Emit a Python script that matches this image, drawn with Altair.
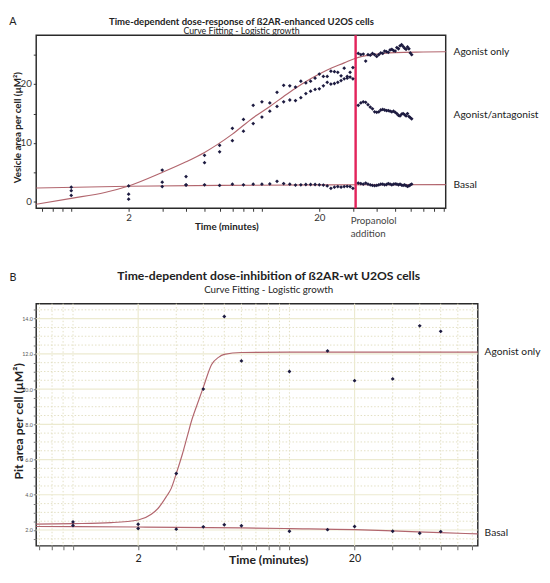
import altair as alt
import pandas as pd

FONT = "Lato"
PT_COLOR = "#1d1b40"
FIT_COLOR = "#b2666e"
EVENT_COLOR = "#e3245c"

# ---------------- Panel A ----------------
A_LETTER = "A"
A_TITLE = "Time-dependent dose-response of ß2AR-enhanced U2OS cells"
A_SUBTITLE = "Curve Fitting - Logistic growth"
A_YTITLE = "Vesicle area per cell (µM²)"
A_XTITLE = "Time (minutes)"
A_EVENT_LABEL = "Propanolol\naddition"
A_EVENT_T = [31]

A_T_PRE = [1, 2, 3, 4, 5, 6, 7, 8, 9, 10, 11, 12, 13, 14, 15,
           16, 17, 18, 19, 20, 21, 22, 23, 24, 25, 26, 27, 28, 29, 30]
A_REP1_PRE = [1.9, 1.3, 5.4, 4.3, 7.9, 9.6, 12.5, 14.0, 16.4, 17.0, 16.8, 18.6, 19.8, 19.7, 19.5,
              20.5, 20.2, 20.5, 21.0, 21.7, 21.3, 21.3, 22.2, 22.1, 22.0, 21.4, 22.7, 21.3, 22.0, 22.8]
A_REP2_PRE = [1.1, 0.45, 3.35, 2.9, 6.65, 8.5, 10.4, 12.0, 13.3, 14.4, 15.4, 16.2, 17.0, 17.3, 17.2,
              17.7, 18.4, 18.8, 19.1, 19.2, 19.7, 20.3, 20.0, 20.1, 20.3, 20.6, 20.9, 21.0, 21.2, 20.9]
A_BASAL_PRE = [2.5, 2.7, 2.6, 2.85, 2.9, 2.8, 3.0, 2.9, 3.0, 3.0, 3.05, 3.5, 3.1, 3.0, 2.85,
               2.9, 2.95, 2.95, 2.95, 2.9, 2.85, 2.7, 2.3, 2.5, 2.6, 2.5, 2.6, 2.65, 2.6, 2.3]

A_T_POST = [32, 33, 34, 35, 36, 37, 38, 39, 40, 41, 42, 43, 44, 45, 46,
            47, 48, 49, 50, 51, 52, 53, 54, 55, 56, 57, 58, 59, 60, 61]
A_AGONIST_POST = [25.2, 25.0, 25.1, 23.9, 25.0, 24.9, 25.2, 25.0, 24.7, 25.0, 25.3, 25.2, 25.6, 25.5, 25.4,
                  25.8, 25.9, 25.7, 25.6, 26.2, 26.0, 26.5, 26.7, 26.4, 26.1, 25.9, 26.3, 26.0, 25.3, 25.0]
A_ANTAG_POST = [16.4, 16.8, 17.0, 16.9, 16.5, 16.1, 15.8, 15.3, 15.2, 15.3, 15.6, 15.7, 15.6, 15.5, 15.5,
                15.4, 15.3, 15.4, 15.2, 15.0, 14.7, 14.6, 14.9, 15.0, 14.8, 14.6, 15.0, 14.5, 14.3, 14.1]
A_BASAL_POST = [3.2, 3.1, 3.0, 3.2, 3.0, 2.9, 2.8, 2.75, 2.8, 2.9, 3.0, 3.0, 2.9, 2.95, 3.1,
                3.0, 2.9, 3.0, 3.05, 3.0, 2.9, 3.0, 2.85, 2.8, 2.9, 2.75, 2.65, 2.7, 2.9, 3.0]

# fitted curves
A_FIT_AGONIST_T = [0.655, 1, 1.5, 2, 3, 4, 5, 7, 9, 11, 13, 15, 18, 22, 27, 31, 38, 50, 70, 92]
A_FIT_AGONIST_V = [-0.4, 0.6, 1.6, 2.7, 5.0, 6.8, 8.4, 11.5, 14.3, 16.2, 17.9, 19.3, 20.9, 22.4, 23.6,
                   24.4, 25.0, 25.35, 25.45, 25.5]
A_FIT_BASAL_T = [0.655, 2, 6, 20, 92]
A_FIT_BASAL_V = [2.35, 2.65, 2.8, 2.88, 2.92]

A_SERIES_LABELS = ["Agonist only", "Agonist/antagonist", "Basal"]
A_SERIES_LABEL_V = [25.4, 14.7, 2.9]

A_XTICKS = [0.7, 0.8, 0.9, 1, 2, 3, 4, 5, 6, 7, 8, 9, 10, 20, 30, 40, 50, 60, 70, 80, 90]
A_YTICKS = [0, 5, 10, 15, 20, 25]
A_XDOMAIN = [0.655, 92]
A_YDOMAIN = [-1.1, 28.3]

# ---------------- Panel B ----------------
B_LETTER = "B"
B_TITLE = "Time-dependent dose-inhibition of ß2AR-wt U2OS cells"
B_SUBTITLE = "Curve Fitting - Logistic growth"
B_YTITLE = "Pit area per cell (µM²)"
B_XTITLE = "Time (minutes)"

B_T = [1, 2, 3, 4, 5, 6, 10, 15, 20, 30, 40, 50]
B_AGONIST = [2.46, 2.33, 5.21, 10.0, 14.12, 11.6, 11.0, 12.17, 10.48, 10.58, 13.59, 13.28]
B_BASAL = [2.26, 2.09, 2.05, 2.18, 2.3, 2.24, 1.93, 2.02, 2.2, 1.93, 1.82, 1.91]

B_FIT_AGONIST_T = [0.676, 1, 1.5, 2, 2.3, 2.48, 2.7, 2.84, 3.0, 3.2, 3.37, 3.55, 3.74, 4.0, 4.37,
                   4.7, 5.0, 6, 10, 74.2]
B_FIT_AGONIST_V = [2.33, 2.36, 2.42, 2.57, 2.9, 3.25, 3.9, 4.35, 5.2, 6.3, 7.3, 8.3, 9.1, 10.1, 11.4,
                   11.8, 11.97, 12.08, 12.1, 12.1]
B_FIT_BASAL_T = [0.676, 2, 6, 10, 20, 30, 50, 74.2]
B_FIT_BASAL_V = [2.2, 2.17, 2.12, 2.08, 2.02, 1.95, 1.85, 1.78]

B_SERIES_LABELS = ["Agonist only", "Basal"]
B_SERIES_LABEL_V = [12.1, 1.85]

B_XTICKS = [0.7, 0.8, 0.9, 1, 2, 3, 4, 5, 6, 7, 8, 9, 10, 20, 30, 40, 50, 60, 70]
B_YTICKS = [1.5, 2, 2.5, 3, 3.5, 4, 4.5, 5, 5.5, 6, 6.5, 7, 7.5, 8, 8.5, 9, 9.5, 10,
            10.5, 11, 11.5, 12, 12.5, 13, 13.5, 14, 14.5]
B_GRID_Y_MAJOR = [2, 4, 6, 8, 10, 12, 14]
B_GRID_Y_MINOR = [1.5, 2.5, 3, 3.5, 4.5, 5, 5.5, 6.5, 7, 7.5, 8.5, 9, 9.5, 10.5, 11, 11.5,
                  12.5, 13, 13.5, 14.5]
B_GRID_X_MAJOR = [2, 20]
B_GRID_X_MINOR = [0.7, 0.8, 0.9, 1, 3, 4, 5, 6, 7, 8, 9, 10, 30, 40, 50, 60, 70]
B_XDOMAIN = [0.676, 74.2]
B_YDOMAIN = [1.1, 14.85]

# ---------------- layout sizes ----------------
AW, AH = 421, 178
BW, BH = 454, 249


def text_layer(txt, x, y, size, bold=False, align="center", baseline="middle",
               angle=0, color="#222", line_break=None):
    kw = dict(font=FONT, fontSize=size, fontWeight="bold" if bold else "normal",
              align=align, baseline=baseline, color=color)
    if angle:
        kw["angle"] = angle
    if line_break:
        kw["lineBreak"] = line_break
        kw["lineHeight"] = 13
    return alt.Chart(pd.DataFrame({"s": [txt]})).mark_text(**kw).encode(
        text="s:N", x=alt.value(x), y=alt.value(y))


xlab_expr = "datum.value == 2 ? '2' : (datum.value == 20 ? '20' : '')"

# ---------- Panel A chart ----------
XA = alt.X("t:Q", scale=alt.Scale(type="log", domain=A_XDOMAIN, nice=False),
           axis=alt.Axis(values=A_XTICKS, labelExpr=xlab_expr, title=None, domain=False,
                         grid=False, tickSize=3, labelPadding=2, labelFontSize=10,
                         labelFont=FONT, labelColor="#333", tickColor="#333"))
YA = alt.Y("v:Q", scale=alt.Scale(domain=A_YDOMAIN, nice=False, zero=False),
           axis=alt.Axis(values=A_YTICKS, labelExpr="datum.value % 10 == 0 ? datum.label : ''",
                         title=None, domain=False, grid=False, tickSize=3, labelPadding=2,
                         labelFontSize=10, labelFont=FONT, labelColor="#333", tickColor="#333"))

a_pts = pd.concat([
    pd.DataFrame({"t": A_T_PRE, "v": A_REP1_PRE}),
    pd.DataFrame({"t": A_T_PRE, "v": A_REP2_PRE}),
    pd.DataFrame({"t": A_T_PRE, "v": A_BASAL_PRE}),
    pd.DataFrame({"t": A_T_POST, "v": A_AGONIST_POST}),
    pd.DataFrame({"t": A_T_POST, "v": A_ANTAG_POST}),
    pd.DataFrame({"t": A_T_POST, "v": A_BASAL_POST}),
], ignore_index=True)
a_fit = pd.concat([
    pd.DataFrame({"t": A_FIT_AGONIST_T, "v": A_FIT_AGONIST_V, "c": "agonist"}),
    pd.DataFrame({"t": A_FIT_BASAL_T, "v": A_FIT_BASAL_V, "c": "basal"}),
], ignore_index=True)

a_fit_layer = alt.Chart(a_fit).mark_line(color=FIT_COLOR, strokeWidth=1.2, interpolate="monotone").encode(
    x=XA, y=YA, detail="c:N", order="t:Q")
a_event = alt.Chart(pd.DataFrame({"t": A_EVENT_T})).mark_rule(color=EVENT_COLOR, strokeWidth=2.5).encode(
    x=XA, y=alt.value(0), y2=alt.value(AH))
a_pts_layer = alt.Chart(a_pts).mark_point(filled=True, shape="diamond", size=15, color=PT_COLOR, opacity=1).encode(
    x=XA, y=YA)
a_labels = alt.Chart(pd.DataFrame({"s": A_SERIES_LABELS, "v": A_SERIES_LABEL_V})).mark_text(
    font=FONT, fontSize=10.5, align="left", baseline="middle", color="#222").encode(
    text="s:N", y=YA, x=alt.value(AW + 8))
a_event_label = alt.Chart(pd.DataFrame({"t": A_EVENT_T, "s": [A_EVENT_LABEL]})).mark_text(
    font=FONT, fontSize=10, align="left", baseline="top", color="#444", dx=-5,
    lineBreak="\n", lineHeight=13).encode(x=XA, y=alt.value(AH + 8), text="s:N")

panel_a = alt.layer(
    a_fit_layer, a_event, a_pts_layer, a_labels, a_event_label,
    text_layer(A_LETTER, -24, -19, 11, baseline="top"),
    text_layer(A_TITLE, 211, -19, 9.8, bold=True, baseline="top"),
    text_layer(A_SUBTITLE, 211, -4.2, 9),
    text_layer(A_YTITLE, -19, 95, 10, bold=True, angle=270),
    text_layer(A_XTITLE, 196, 197, 10, bold=True),
).properties(width=AW, height=AH)

# ---------- Panel B chart ----------
XB = alt.X("t:Q", scale=alt.Scale(type="log", domain=B_XDOMAIN, nice=False),
           axis=alt.Axis(values=B_XTICKS, labelExpr=xlab_expr, title=None, domain=False,
                         grid=False, tickSize=4, labelPadding=3, labelFontSize=11,
                         labelFont=FONT, labelColor="#222", tickColor="#666"))
YB = alt.Y("v:Q", scale=alt.Scale(domain=B_YDOMAIN, nice=False, zero=False),
           axis=alt.Axis(values=B_YTICKS, labelExpr="datum.value % 2 == 0 ? datum.label : ''",
                         title=None, domain=False, grid=False, tickSize=3, labelPadding=1,
                         labelFontSize=5.5, labelFont=FONT, labelColor="#555", tickColor="#777"))

b_pts = pd.concat([
    pd.DataFrame({"t": B_T, "v": B_AGONIST}),
    pd.DataFrame({"t": B_T, "v": B_BASAL}),
], ignore_index=True)
b_fit = pd.concat([
    pd.DataFrame({"t": B_FIT_AGONIST_T, "v": B_FIT_AGONIST_V, "c": "agonist"}),
    pd.DataFrame({"t": B_FIT_BASAL_T, "v": B_FIT_BASAL_V, "c": "basal"}),
], ignore_index=True)

GRID_SOLID = "#ecead0"
GRID_DOT = "#e2dfc2"
b_gy_minor = alt.Chart(pd.DataFrame({"v": B_GRID_Y_MINOR})).mark_rule(
    color=GRID_DOT, strokeWidth=1, strokeDash=[1.5, 2]).encode(y=YB)
b_gx_minor = alt.Chart(pd.DataFrame({"t": B_GRID_X_MINOR})).mark_rule(
    color=GRID_DOT, strokeWidth=1, strokeDash=[1.5, 2]).encode(x=XB)
b_gy_major = alt.Chart(pd.DataFrame({"v": B_GRID_Y_MAJOR})).mark_rule(
    color=GRID_SOLID, strokeWidth=1.2).encode(y=YB)
b_gx_major = alt.Chart(pd.DataFrame({"t": B_GRID_X_MAJOR})).mark_rule(
    color=GRID_SOLID, strokeWidth=1.2).encode(x=XB)
b_fit_layer = alt.Chart(b_fit).mark_line(color=FIT_COLOR, strokeWidth=1.2, interpolate="monotone").encode(
    x=XB, y=YB, detail="c:N", order="t:Q")
b_pts_layer = alt.Chart(b_pts).mark_point(filled=True, shape="diamond", size=16, color=PT_COLOR, opacity=1).encode(
    x=XB, y=YB)
b_labels = alt.Chart(pd.DataFrame({"s": B_SERIES_LABELS, "v": B_SERIES_LABEL_V})).mark_text(
    font=FONT, fontSize=10.5, align="left", baseline="middle", color="#222").encode(
    text="s:N", y=YB, x=alt.value(BW + 7))

panel_b = alt.layer(
    b_gy_minor, b_gx_minor, b_gy_major, b_gx_major, b_fit_layer, b_pts_layer, b_labels,
    text_layer(B_LETTER, -24, -32, 11, baseline="top"),
    text_layer(B_TITLE, 239, -28, 12.5, bold=True),
    text_layer(B_SUBTITLE, 239, -14, 10),
    text_layer(B_YTITLE, -17.5, 121, 12.5, bold=True, angle=270),
    text_layer(B_XTITLE, 239, 264, 12.5, bold=True),
).properties(width=BW, height=BH)

chart = alt.vconcat(panel_a, panel_b, spacing=98, bounds="flush").properties(
    padding=0
).configure_view(stroke="#2a2a2a", strokeWidth=1.5)

chart.save("out.html", embed_options={"renderer": "svg", "actions": False})
